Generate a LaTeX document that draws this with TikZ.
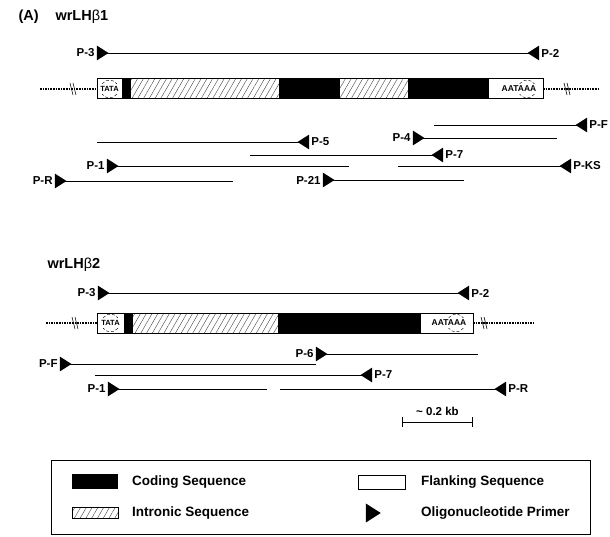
\documentclass[tikz,border=0pt]{standalone}
\usepackage{fontspec}
\setmainfont{Liberation Sans}
\usetikzlibrary{positioning,shapes.geometric,patterns.meta,arrows.meta}

\tikzset{
  coding/.style={fill=black},
  intron/.style={pattern={Lines[angle=60,distance=5pt,line width=0.4pt]}, pattern color=black!75},
  flank/.style={fill=white},
  fwd/.style={isosceles triangle, isosceles triangle apex angle=65, fill=black,
              inner sep=0pt, minimum height=11.5pt, minimum width=13pt},
  rev/.style={fwd, shape border rotate=180},
  plabel/.style={font=\bfseries\fontsize{11.5}{13}\selectfont, inner sep=1pt},
  keylabel/.style={font=\bfseries\fontsize{13.5}{15}\selectfont, inner sep=0pt, anchor=west},
  titlelabel/.style={font=\bfseries\fontsize{14.5}{16}\selectfont, anchor=west},
  primline/.style={line width=0.9pt},
  flankdots/.style={dash pattern=on 1.6pt off 1pt, line width=1.1pt},
  siglabel/.style={font=\bfseries\fontsize{7.5}{8}\selectfont, inner sep=0pt},
  sigmark/.style={densely dashed, line width=0.4pt},
}
\newcommand{\lhb}{wrLH{\mdseries β}}

\begin{document}
\begin{tikzpicture}[x=1pt, y=-1pt]
  \useasboundingbox (0,0) rectangle (610,537);

  % ---------- wrLHb1 ----------
  \node[titlelabel] (panel) at (15,17) {(A)};
  \node[titlelabel] (geneA) at (52,17) {\lhb1};

  \node[fwd] (a-p3) at (101,53) {};
  \node[rev] (a-p2) at (535,53) {};
  \node[plabel, left=1pt of a-p3] (a-p3-t) {P-3};
  \node[plabel, right=1pt of a-p2] (a-p2-t) {P-2};
  \draw[primline] (a-p3.center) -- (a-p2.center);

  \draw[flankdots] (40,89) -- (97,89);
  \draw[flankdots] (543,89) -- (600,89);
  \foreach \x in {72,566} {
    \draw[line width=0.6pt] (\x-2,83) -- (\x+1,95);
    \draw[line width=0.6pt] (\x+1,83) -- (\x+4,95);
  }
  \foreach \a/\b/\s in {97/122/flank, 122/131/coding, 131/279/intron, 279/340/coding,
                        340/408/intron, 408/489/coding, 489/543/flank}
    \path[\s] (\a,79) rectangle (\b,99);
  \draw[line width=1pt] (97,79) rectangle (543,99);

  \node[siglabel] (a-tata) at (109.5,89) {TATA};
  \draw[sigmark] (109.5,89) ++(35:9) arc[start angle=35, end angle=145, radius=9];
  \draw[sigmark] (109.5,89) ++(215:9) arc[start angle=215, end angle=325, radius=9];
  \node[siglabel, font=\bfseries\fontsize{8.5}{9}\selectfont] (a-polya) at (519,89) {AATAAA};
  \draw[sigmark] (527,89) ++(35:9) arc[start angle=35, end angle=145, radius=9];
  \draw[sigmark] (527,89) ++(215:9) arc[start angle=215, end angle=325, radius=9];

  % primers, forward (label on the left)
  \foreach \n/\x/\y/\e/\t in {a-p4/417/138/557/P-4, a-p1/111/166/349/P-1,
                              a-pr/59/181/233/P-R, a-p21/327/180/464/P-21} {
    \node[fwd] (\n) at (\x,\y) {};
    \node[plabel, left=1pt of \n] (\n-t) {\t};
    \coordinate (\n-e) at (\e,\y);
    \draw[primline] (\n.center) -- (\n-e);
  }
  % primers, reverse (label on the right)
  \foreach \n/\x/\y/\e/\t in {a-pf/583/125/434/P-F, a-p5/305/142/97/P-5,
                              a-p7/439/155/250/P-7, a-pks/567/166/398/P-KS} {
    \node[rev] (\n) at (\x,\y) {};
    \node[plabel, right=1pt of \n] (\n-t) {\t};
    \coordinate (\n-e) at (\e,\y);
    \draw[primline] (\n-e) -- (\n.center);
  }

  % ---------- wrLHb2 ----------
  \node[titlelabel] (geneB) at (44,265) {\lhb2};

  \node[fwd] (b-p3) at (102,293) {};
  \node[rev] (b-p2) at (465,293) {};
  \node[plabel, left=1pt of b-p3] (b-p3-t) {P-3};
  \node[plabel, right=1pt of b-p2] (b-p2-t) {P-2};
  \draw[primline] (b-p3.center) -- (b-p2.center);

  \draw[flankdots] (46,323) -- (97,323);
  \draw[flankdots] (473,323) -- (533,323);
  \foreach \x in {74,483} {
    \draw[line width=0.6pt] (\x-2,317) -- (\x+1,329);
    \draw[line width=0.6pt] (\x+1,317) -- (\x+4,329);
  }
  \foreach \a/\b/\s in {97/124/flank, 124/133/coding, 133/278/intron,
                        278/421/coding, 421/473/flank}
    \path[\s] (\a,313) rectangle (\b,333);
  \draw[line width=1pt] (97,313) rectangle (473,333);

  \node[siglabel] (b-tata) at (110.5,323) {TATA};
  \draw[sigmark] (110.5,323) ++(35:9) arc[start angle=35, end angle=145, radius=9];
  \draw[sigmark] (110.5,323) ++(215:9) arc[start angle=215, end angle=325, radius=9];
  \node[siglabel, font=\bfseries\fontsize{8.5}{9}\selectfont] (b-polya) at (449,323) {AATAAA};
  \draw[sigmark] (456,323) ++(35:9) arc[start angle=35, end angle=145, radius=9];
  \draw[sigmark] (456,323) ++(215:9) arc[start angle=215, end angle=325, radius=9];

  \foreach \n/\x/\y/\e/\t in {b-p6/320/354/478/P-6, b-pf/64/364/316/P-F,
                              b-p1/112/389/267/P-1} {
    \node[fwd] (\n) at (\x,\y) {};
    \node[plabel, left=1pt of \n] (\n-t) {\t};
    \coordinate (\n-e) at (\e,\y);
    \draw[primline] (\n.center) -- (\n-e);
  }
  \foreach \n/\x/\y/\e/\t in {b-p7/368/375/95/P-7, b-pr/502/389/280/P-R} {
    \node[rev] (\n) at (\x,\y) {};
    \node[plabel, right=1pt of \n] (\n-t) {\t};
    \coordinate (\n-e) at (\e,\y);
    \draw[primline] (\n-e) -- (\n.center);
  }

  % scale bar
  \coordinate (bar-l) at (402,422);
  \coordinate (bar-r) at (473,422);
  \draw[line width=0.9pt, {Bar[width=10pt]}-{Bar[width=10pt]}] (bar-l) -- (bar-r);
  \node[plabel] (bar-t) at (437.5,411) {\textasciitilde{} 0.2 kb};

  % ---------- legend ----------
  \draw[line width=0.6pt] (51,460) rectangle (590,534);
  \fill[coding] (72,474) rectangle (118,489);
  \path[intron] (72,507) rectangle (118,518);
  \draw[line width=0.5pt] (72,507) rectangle (118,518);
  \draw[line width=0.6pt] (358,475) rectangle (405,489);
  \node[fwd, minimum height=15pt, minimum width=17pt] (key-tri) at (371,513) {};
  \node[keylabel] (key-cod) at (132,482) {Coding Sequence};
  \node[keylabel] (key-int) at (132,513) {Intronic Sequence};
  \node[keylabel] (key-fla) at (421,482) {Flanking Sequence};
  \node[keylabel] (key-pri) at (421,513) {Oligonucleotide Primer};
\end{tikzpicture}
\end{document}
